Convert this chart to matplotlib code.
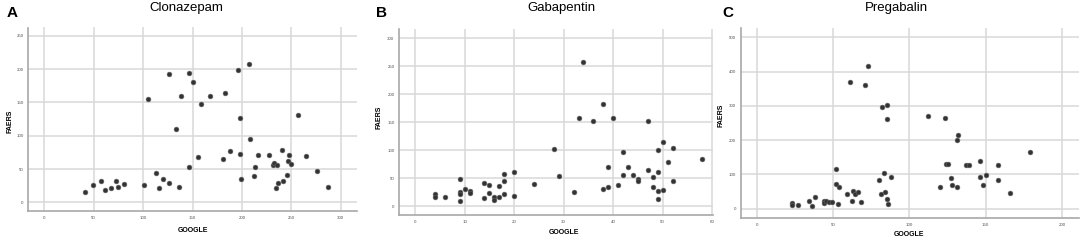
import matplotlib
matplotlib.use("Agg")
import matplotlib.pyplot as plt

plt.rcParams['font.family'] = ['Liberation Sans', 'DejaVu Sans']

# ---------------- data ----------------
clon_google = [41, 49.5, 57, 62, 68, 73, 75, 81, 101, 105, 113, 116, 120, 126, 126, 133, 136, 138,
               146, 146, 150, 156, 159, 168, 181, 183, 188, 196, 198, 198, 199, 207, 208, 212, 213,
               216, 227, 231, 232, 235, 234, 236, 240, 241, 246, 247, 248, 250, 257, 265, 276, 287]
clon_faers = [15.5, 25.5, 31.5, 18.5, 21.5, 32.5, 22.5, 28, 26.5, 155, 43.5, 21.5, 35.5, 29.5, 193,
              110.5, 23.5, 160, 53.5, 194, 180, 67.5, 147, 159, 64.5, 164, 77.5, 199, 126.5, 72.5,
              35.5, 208, 94.5, 39.5, 53.5, 71.5, 71.5, 56.5, 59.5, 55.5, 21.5, 29.5, 78.5, 31.5,
              40.5, 62.5, 70.5, 57.5, 130.5, 69.5, 46.5, 23.5]

gaba_google = [4, 4, 6, 9, 9, 9, 9, 10, 11, 11, 14, 14, 15, 15, 16, 16, 17, 17, 18, 18, 18, 20, 20,
               24, 28, 29, 32, 33, 34, 36, 38, 38, 39, 39, 40, 41, 42, 42, 43, 44, 45, 45, 47, 47,
               48, 48, 49, 49, 49, 49, 50, 50, 51, 52, 52, 58]
gaba_faers = [21.5, 15.5, 17, 48, 26, 21.5, 9.5, 30.5, 27, 23.5, 41, 14.5, 38, 23.5, 16.5, 11.5,
              36.5, 15.5, 58, 44, 21, 61, 18.5, 39.5, 103, 54, 25.5, 158.5, 258, 152.5, 182, 30.5,
              70.5, 33.5, 158, 37, 97.5, 55.5, 69.5, 55.5, 49, 45.5, 152.5, 64.5, 52.5, 34.5, 100,
              60.5, 26.5, 13, 115.5, 29.5, 79.5, 103.5, 45.5, 85]

preg_google = [23, 23, 27, 34, 36, 38, 44, 44, 45.5, 47, 49, 52, 52, 53, 54, 59, 61, 62, 63, 64, 66,
               68, 71, 73, 80, 81, 82, 83, 84, 85, 85, 85, 86, 88, 112, 120, 123, 124, 125.5, 127,
               128, 131, 131, 132, 137, 139, 146, 146, 148, 150, 158, 158, 166, 179]
preg_faers = [15.5, 11.5, 11.5, 22.5, 8, 35, 23.5, 15.5, 21.5, 19.5, 19.5, 117, 73, 12.5, 62.5,
              43, 370, 22.5, 50.5, 43, 48.5, 20.5, 360, 416, 83, 44, 296, 105, 48, 301, 261, 28.5,
              12.5, 93.5, 270, 62.5, 264, 131.5, 131.5, 90.5, 70, 200, 62.5, 214, 127.5, 127.5,
              140.5, 93.5, 68, 98.5, 128.5, 85, 47, 164.5]

titles = ["Clonazepam", "Gabapentin", "Pregabalin"]
letters = ["A", "B", "C"]
x_ticks = [[0, 50, 100, 150, 200, 250, 300], [0, 10, 20, 30, 40, 50, 60], [0, 50, 100, 150, 200]]
y_ticks = [[0, 50, 100, 150, 200, 250], [0, 50, 100, 150, 200, 250, 300], [0, 100, 200, 300, 400, 500]]
x_label = "GOOGLE"
y_label = "FAERS"

# ---------------- layout (pixels) ----------------
W, H = 1084, 245
fig = plt.figure(figsize=(W / 100, H / 100), dpi=100)

# left, right, top, bottom in pixels
boxes = [(28.3, 356.7, 27.5, 211.0), (399.3, 712.7, 29.0, 215.0), (741.0, 1078.7, 28.0, 218.3)]
xlims = [(-16, 316), (-3.2, 60.1), (-10.5, 211)]
ylims = [(-13, 262.5), (-16, 317), (-28, 527)]
title_x = [186, 561, 896]
letter_x = [6.5, 376, 722]
glabel_pos = [(193, 230), (564, 232), (909, 234)]
flabel_pos = [(10, 121), (379, 117), (721, 115)]

datasets = [(clon_google, clon_faers), (gaba_google, gaba_faers), (preg_google, preg_faers)]

grid_c = "#d9d9d9"
spine_c = "#a8a8a8"

for i in range(3):
    l, r, t, b = boxes[i]
    ax = fig.add_axes([l / W, 1 - b / H, (r - l) / W, (b - t) / H])
    xs, ys = datasets[i]
    ax.set_xlim(*xlims[i])
    ax.set_ylim(*ylims[i])
    ax.set_xticks(x_ticks[i])
    ax.set_yticks(y_ticks[i])
    ax.grid(True, color=grid_c, linewidth=1.1, zorder=0)
    ax.set_axisbelow(True)
    for s in ["top", "right"]:
        ax.spines[s].set_visible(False)
    for s in ["left", "bottom"]:
        ax.spines[s].set_color(spine_c)
        ax.spines[s].set_linewidth(1.2)
    ax.tick_params(length=0, labelsize=3.2, labelcolor="#555555", pad=3.5)
    ax.scatter(xs, ys, s=12, color="#333333", edgecolors="#666666", linewidths=0.4, zorder=3)

    fig.text(title_x[i] / W, 1 - 11.5 / H, titles[i], ha="center", va="baseline", fontsize=9.5)
    fig.text(letter_x[i] / W, 1 - 17 / H, letters[i], ha="left", va="baseline",
             fontsize=11, fontweight="bold")
    gx, gy = glabel_pos[i]
    fig.text(gx / W, 1 - gy / H, x_label, ha="center", va="center", fontsize=5, fontweight="bold")
    fx, fy = flabel_pos[i]
    fig.text(fx / W, 1 - fy / H, y_label, ha="center", va="center", fontsize=5,
             fontweight="bold", rotation=90)

fig.savefig("out.png", dpi=100, facecolor="white")
